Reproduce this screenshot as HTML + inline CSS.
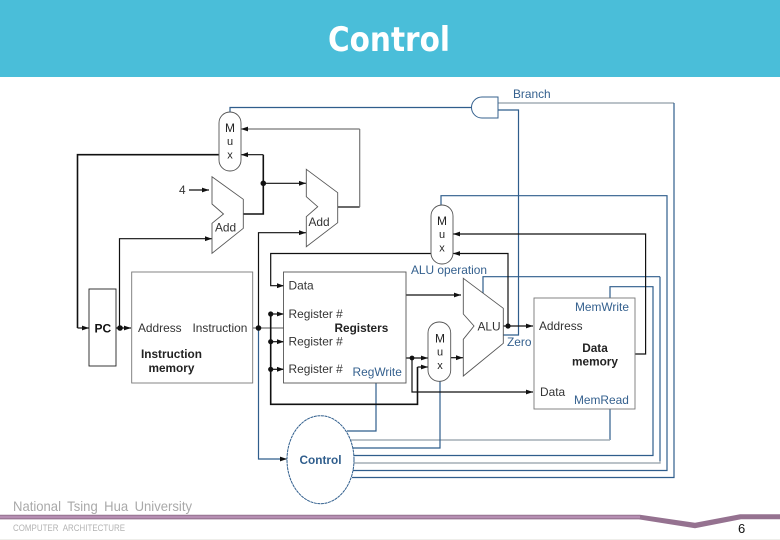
<!DOCTYPE html>
<html>
<head>
<meta charset="utf-8">
<style>
html,body{margin:0;padding:0;background:#fff;width:780px;height:540px;overflow:hidden}
svg{display:block}
text{font-family:"Liberation Sans",sans-serif}
.k{fill:none;stroke:#111;stroke-width:1.2}
.b{fill:none;stroke:#111;stroke-width:1.6}
.g{fill:none;stroke:#777;stroke-width:1.2}
.u{fill:none;stroke:#2f5d8c;stroke-width:1.2}
.lg{fill:none;stroke:#a3adb6;stroke-width:1.4}
.sh{fill:#fff;stroke:#555;stroke-width:.9}
.t{font-size:11.9px;fill:#333}
.tb{font-size:11.8px;fill:#222;font-weight:bold}
.tu{font-size:11.9px;fill:#34608e}
.d{filter:blur(.3px)}
</style>
</head>
<body>
<svg width="780" height="540" viewBox="0 0 780 540" xmlns="http://www.w3.org/2000/svg">
<defs>
<marker id="a" markerWidth="8" markerHeight="6" refX="7" refY="3" orient="auto" markerUnits="userSpaceOnUse"><path d="M0 .6L7 3L0 5.4Z" fill="#111"/></marker>
</defs>
<rect x="0" y="0" width="780" height="77" fill="#4abed9"/>
<text x="389" y="51" text-anchor="middle" textLength="122" lengthAdjust="spacingAndGlyphs" style="font-family:'DejaVu Sans',sans-serif;font-size:34px;font-weight:bold;fill:#fff">Control</text>

<g class="d">
<!-- blue control lines -->
<path class="u" d="M230 112V107.5H471"/>
<path class="lg" d="M498 103H674"/>
<path class="u" d="M674 103V477.5H352"/>
<path class="u" d="M498 110H518.5V335H503"/>
<path class="u" d="M441 205V195.7H667V470.5H351"/>
<path class="u" d="M483 293V276.7H660"/>
<path class="u" d="M660 276.7V461"/>
<path class="lg" d="M660 461V463H353"/>
<path class="u" d="M610 298V286.7H653V455.5H354"/>
<path class="u" d="M610 409V440"/>
<path class="lg" d="M610 440H351"/>
<path class="u" d="M440 381V448H353"/>
<path class="u" d="M376 383V431H347"/>
<path class="u" d="M258.5 328V459H287" marker-end="url(#a)"/>

<!-- PC path -->
<path class="b" d="M219 154.7H77.5V328"/>
<path class="k" d="M77.5 328H89" marker-end="url(#a)"/>
<path class="k" d="M120 328H131" marker-end="url(#a)"/>
<path class="k" d="M116 328H120"/>
<path class="k" d="M119.5 328V238.7H212" marker-end="url(#a)"/>
<path class="k" d="M189 190H209" marker-end="url(#a)"/>
<path class="b" d="M243.3 214H263.3V154.7"/>
<path class="k" d="M263.3 154.7H241" marker-end="url(#a)"/>
<path class="k" d="M263.3 183.3H306" marker-end="url(#a)"/>
<path class="k" d="M337.7 207H359.7"/>
<path class="g" d="M359.7 207V129"/>
<path class="g" d="M359.7 129H241" marker-end="url(#a)"/>
<path class="k" d="M258.5 328V232.7H306" marker-end="url(#a)"/>
<path class="g" d="M253 328H284"/>

<!-- register inputs -->
<path class="b" d="M270.7 314V404.3H417.5V367"/>
<path class="k" d="M417.5 367H428" marker-end="url(#a)"/>
<path class="k" d="M270.7 314H284" marker-end="url(#a)"/>
<path class="k" d="M270.7 341.7H284" marker-end="url(#a)"/>
<path class="k" d="M270.7 369.3H284" marker-end="url(#a)"/>
<path class="k" d="M431 253.5H270.7V285.7H284" marker-end="url(#a)"/>
<path class="k" d="M406 295H461" marker-end="url(#a)"/>
<path class="k" d="M406 358H428" marker-end="url(#a)"/>
<path class="k" d="M412 358V392H533" marker-end="url(#a)"/>
<path class="k" d="M450.7 357.7H463" marker-end="url(#a)"/>
<path class="k" d="M503 326H533" marker-end="url(#a)"/>
<path class="k" d="M508 326V253.5H453" marker-end="url(#a)"/>
<path class="k" d="M635 354H645.6V234H453" marker-end="url(#a)"/>

<!-- boxes -->
<rect class="sh" x="89" y="289" width="27" height="77" style="stroke:#222"/>
<rect class="sh" x="131.7" y="272" width="121" height="111" style="fill:none;stroke:#777"/>
<rect class="sh" x="283.5" y="272" width="122.5" height="111" style="fill:none;stroke:#555"/>
<rect class="sh" x="534" y="298" width="101" height="111" style="fill:none;stroke:#777"/>

<!-- muxes -->
<rect class="sh" x="219" y="112" width="22" height="59" rx="11" ry="11"/>
<rect class="sh" x="431" y="205" width="22" height="59" rx="11" ry="11"/>
<rect class="sh" x="428" y="322" width="22.7" height="59.3" rx="11" ry="11"/>

<!-- adders, ALU -->
<path class="sh" d="M212 176.7L243.3 199.3V228.3L212 253.3V223.3L223.5 214L212 204Z"/>
<path class="sh" d="M306.3 169.3L337.7 192.7V222.7L306.3 246.7V216.7L317.7 206.7L306.3 196.7Z"/>
<path class="sh" d="M463.3 278.3L503.3 308.3V343.3L463.3 376V339.3L474 326L463.3 314Z" style="fill:none"/>

<!-- AND gate -->
<path d="M498 97H482A10.5 10.5 0 0 0 482 118H498Z" fill="#fff" stroke="#34608e" stroke-width="1"/>

<!-- control -->
<ellipse cx="320.5" cy="459.7" rx="33.5" ry="44" fill="#fff" stroke="#2f5d8c" stroke-width="1" stroke-dasharray="3 .6"/>

<!-- dots -->
<g fill="#111">
<circle cx="263.3" cy="183.3" r="2.8"/>
<circle cx="120" cy="328" r="2.8"/>
<circle cx="258.5" cy="328" r="2.8"/>
<circle cx="270.7" cy="314" r="2.6"/>
<circle cx="270.7" cy="341.7" r="2.6"/>
<circle cx="270.7" cy="369.3" r="2.6"/>
<circle cx="412" cy="358" r="2.4"/>
<circle cx="508" cy="326" r="2.6"/>
</g>

<!-- labels -->
<g text-anchor="middle" style="font-size:11px;fill:#222">
<text x="230" y="132" style="font-size:12px">M</text><text x="230" y="145">u</text><text x="230" y="158.5">x</text>
<text x="442" y="225" style="font-size:12px">M</text><text x="442" y="238">u</text><text x="442" y="251.5">x</text>
<text x="440" y="342.5" style="font-size:12px">M</text><text x="440" y="355.5">u</text><text x="440" y="369">x</text>
</g>
<text class="t" x="179" y="194">4</text>
<text class="t" x="215" y="231.5">Add</text>
<text class="t" x="308.5" y="226">Add</text>
<text class="t" x="288.5" y="289.5">Data</text>
<text class="t" x="288.5" y="318">Register #</text>
<text class="t" x="288.5" y="345.5">Register #</text>
<text class="t" x="288.5" y="373">Register #</text>
<text class="tb" x="334.5" y="332">Registers</text>
<text class="tu" x="352.5" y="376">RegWrite</text>
<text class="t" x="138" y="332">Address</text>
<text class="t" x="192.5" y="332">Instruction</text>
<text class="tb" x="141" y="358">Instruction</text>
<text class="tb" x="148.5" y="372">memory</text>
<text x="94.5" y="332.5" style="font-size:12px;font-weight:bold;fill:#111">PC</text>
<text x="320.5" y="464" text-anchor="middle" style="font-size:11.8px;font-weight:bold;fill:#2f5d8c">Control</text>
<text class="tu" x="513" y="98">Branch</text>
<text class="tu" x="411" y="274">ALU operation</text>
<text class="t" x="477.5" y="330.5">ALU</text>
<text class="tu" x="507" y="346">Zero</text>
<text class="t" x="539" y="330">Address</text>
<text class="t" x="540" y="396">Data</text>
<text class="tu" x="575" y="311">MemWrite</text>
<text class="tu" x="574" y="404">MemRead</text>
<text class="tb" x="595" y="352" text-anchor="middle">Data</text>
<text class="tb" x="595" y="365.5" text-anchor="middle">memory</text>
</g>

<!-- footer -->
<text x="13" y="511" textLength="179" lengthAdjust="spacingAndGlyphs" style="font-size:14px;word-spacing:3px;fill:#a9a9a9">National Tsing Hua University</text>
<text x="13" y="531" textLength="112" lengthAdjust="spacingAndGlyphs" style="font-size:9.5px;word-spacing:3px;fill:#b3b3b3">COMPUTER ARCHITECTURE</text>
<path d="M0 514.7H640L695 522.7L740 514.3H780V519.3H741L695 528.3L639 519.4H0Z" fill="#957290"/>
<rect x="0" y="515.8" width="640" height="2.4" fill="#b68fb3"/>
<text x="738" y="533" style="font-size:13px;fill:#111">6</text>
<rect x="0" y="539" width="780" height="1" fill="#eeeeea"/>
</svg>
</body>
</html>
